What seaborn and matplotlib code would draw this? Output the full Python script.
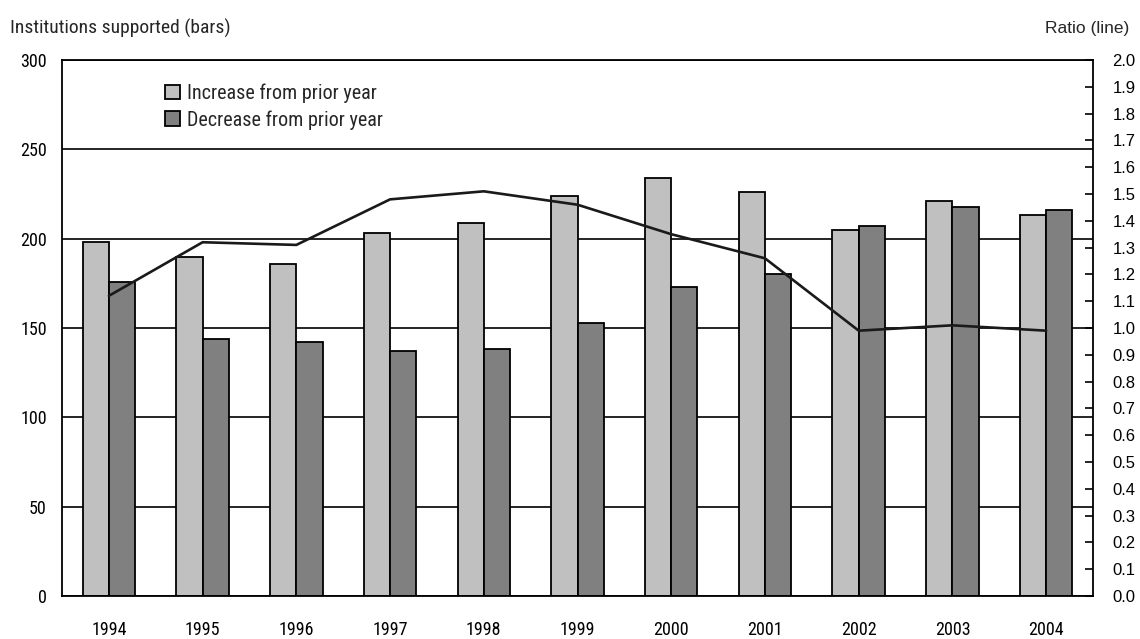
import pandas as pd
import matplotlib
matplotlib.use("Agg")
import matplotlib.pyplot as plt
import seaborn as sns

# Data
years = ["1994", "1995", "1996", "1997", "1998", "1999", "2000", "2001", "2002", "2003", "2004"]
increase = [198, 190, 186, 203, 209, 224, 234, 226, 205, 221, 213]
decrease = [176, 144, 142, 137, 138, 153, 173, 180, 207, 218, 216]
ratio = [1.12, 1.32, 1.31, 1.48, 1.51, 1.46, 1.35, 1.26, 0.99, 1.01, 0.99]

series_names = ["Increase from prior year", "Decrease from prior year"]

df = pd.DataFrame({"year": years * 2,
                   "value": increase + decrease,
                   "type": [series_names[0]] * len(years) + [series_names[1]] * len(years)})

sns.set_style("white")
narrow = ["Roboto Condensed", "Liberation Sans Narrow", "DejaVu Sans Condensed", "Liberation Sans"]
regular = ["Liberation Sans", "DejaVu Sans"]
plt.rcParams["font.family"] = narrow

fig = plt.figure(figsize=(11.4, 6.39), dpi=100)
ax = fig.add_axes([0.0544, 0.0673, 0.9044, 0.8388])

sns.barplot(data=df, x="year", y="value", hue="type", ax=ax,
            palette={series_names[0]: "#c0c0c0", series_names[1]: "#808080"},
            width=0.56, edgecolor="black", linewidth=1.3, saturation=1, zorder=2)

ax.set_ylim(0, 300)
ax.set_xlim(-0.5, len(years) - 0.5)
ax.set_yticks(range(0, 301, 50))
ax.yaxis.grid(True, color="black", linewidth=1.2)
ax.set_axisbelow(True)
ax.set_xlabel("")
ax.set_ylabel("")
ax.tick_params(axis="both", length=0, labelsize=13, colors="black")
ax.tick_params(axis="x", pad=18)
ax.tick_params(axis="y", pad=11)
for s in ax.spines.values():
    s.set_color("black")
    s.set_linewidth(1.3)

leg = ax.legend(loc="upper left", bbox_to_anchor=(0.082, 0.99), frameon=False,
                fontsize=14.5, handlelength=0.75, handleheight=0.75,
                handletextpad=0.35, labelspacing=0.35)

# Ratio line on secondary axis
ax2 = ax.twinx()
sns.lineplot(x=years, y=ratio, ax=ax2, color="#1a1a1a", linewidth=1.9, sort=False)
ax2.set_ylim(0, 2.0)
ax2.set_yticks([i / 10 for i in range(21)])
ax2.set_yticklabels([f"{i / 10:.1f}" for i in range(21)], family=regular)
ax2.tick_params(axis="y", direction="in", length=6, width=1.2, labelsize=12, pad=14, colors="black")
for s in ax2.spines.values():
    s.set_visible(False)

fig.text(0.009, 0.955, "Institutions supported (bars)", fontsize=14, ha="left", va="center")
fig.text(0.991, 0.955, "Ratio (line)", fontsize=12.5, ha="right", va="center", family=regular)

fig.savefig("out.png", dpi=100)
